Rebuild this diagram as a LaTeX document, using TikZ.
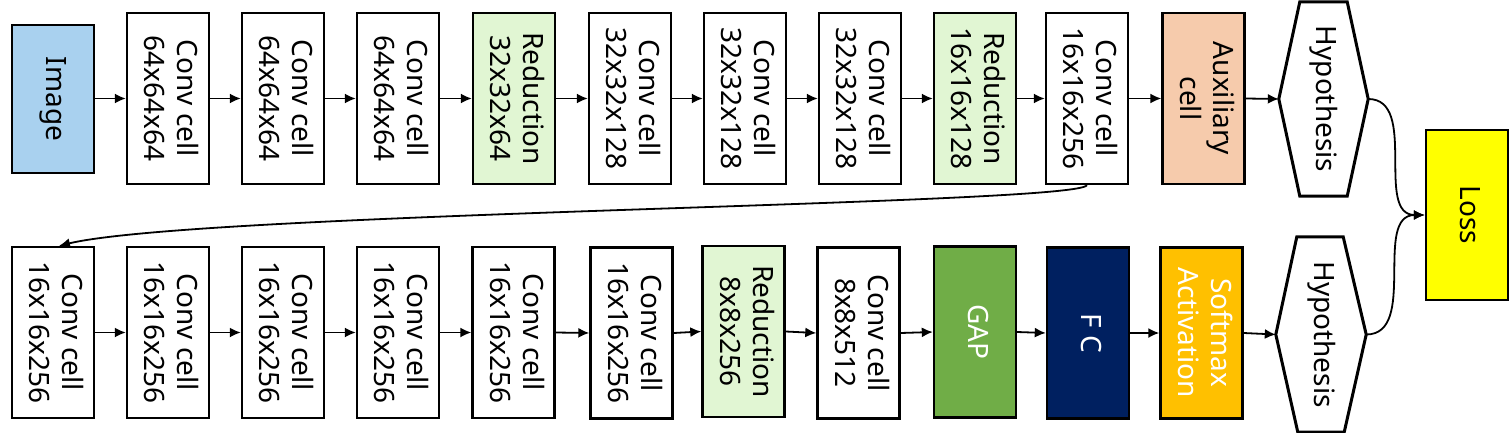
\documentclass[tikz,border=0pt]{standalone}
\usepackage{graphicx}
\usepackage{fontspec}
\setmainfont{Noto Sans}
\usetikzlibrary{arrows.meta}
\definecolor{imgblue}{HTML}{A9D1EF}
\definecolor{redgreen}{HTML}{E1F6D3}
\definecolor{auxpeach}{HTML}{F6CBAC}
\definecolor{gapgreen}{HTML}{70AD47}
\definecolor{fcblue}{HTML}{002060}
\definecolor{smaxorange}{HTML}{FFC000}
\definecolor{lossyellow}{HTML}{FFFF00}
\newcommand{\vtext}[1]{\rotatebox{-90}{\fontsize{28}{33}\selectfont\begin{tabular}{@{}c@{}}#1\end{tabular}}}
\tikzset{
  cellbox/.style={draw=black, line width=2.4pt, minimum width=82pt, minimum height=171pt, inner sep=0pt, anchor=center, fill=white},
  redbox/.style={cellbox, fill=redgreen},
  hexnode/.style={inner sep=0pt, anchor=center},
  hexline/.style={draw=black, line width=3pt, line join=miter, fill=white},
  flow/.style={line width=1.8pt, -{Latex[length=11pt,width=10pt]}},
}
\begin{document}
\begin{tikzpicture}[x=1pt,y=-1pt]
\useasboundingbox (0,0) rectangle (1509,433);
% top row
\node[cellbox, fill=imgblue, minimum height=148pt] (t1) at (53,99) {\vtext{Image}};
\node[cellbox] (t2) at (168,98.5) {\vtext{Conv cell\\64x64x64}};
\node[cellbox] (t3) at (283,98.5) {\vtext{Conv cell\\64x64x64}};
\node[cellbox] (t4) at (398,98.5) {\vtext{Conv cell\\64x64x64}};
\node[redbox] (t5) at (514,98.5) {\vtext{Reduction\\32x32x64}};
\node[cellbox] (t6) at (630,98.5) {\vtext{Conv cell\\32x32x128}};
\node[cellbox] (t7) at (745,98.5) {\vtext{Conv cell\\32x32x128}};
\node[cellbox] (t8) at (860,98.5) {\vtext{Conv cell\\32x32x128}};
\node[redbox] (t9) at (975,98.5) {\vtext{Reduction\\16x16x128}};
\node[cellbox] (t10) at (1087,98.5) {\vtext{Conv cell\\16x16x256}};
\node[cellbox, fill=auxpeach] (t11) at (1203.5,98.5) {\vtext{Auxiliary\\cell}};
\node[hexnode, minimum width=89pt, minimum height=194pt] (hyp1) at (1323.5,99) {};
\path[hexline] (hyp1.west) -- ([xshift=21pt]hyp1.north west) -- ([xshift=-21pt]hyp1.north east) -- (hyp1.east) -- ([xshift=-21pt]hyp1.south east) -- ([xshift=21pt]hyp1.south west) -- cycle;
\node at (hyp1) {\vtext{Hypothesis}};
\node[cellbox, fill=lossyellow, minimum height=170pt] (loss) at (1467,215) {\vtext{Loss}};
% bottom row
\node[cellbox] (b1) at (53,332.5) {\vtext{Conv cell\\16x16x256}};
\node[cellbox] (b2) at (168,332.5) {\vtext{Conv cell\\16x16x256}};
\node[cellbox] (b3) at (283,332.5) {\vtext{Conv cell\\16x16x256}};
\node[cellbox] (b4) at (398,332.5) {\vtext{Conv cell\\16x16x256}};
\node[cellbox] (b5) at (513.5,332.5) {\vtext{Conv cell\\16x16x256}};
\node[cellbox] (b6) at (631.5,333) {\vtext{Conv cell\\16x16x256}};
\node[redbox] (b7) at (743.5,331.5) {\vtext{Reduction\\8x8x256}};
\node[cellbox] (b8) at (858.5,333) {\vtext{Conv cell\\8x8x512}};
\node[cellbox, fill=gapgreen, text=white] (b9) at (975,332) {\vtext{GAP}};
\node[cellbox, fill=fcblue, text=white] (b10) at (1088,333) {\vtext{F C}};
\node[cellbox, fill=smaxorange, text=white] (b11) at (1201.5,333) {\vtext{Softmax\\Activation}};
\node[hexnode, minimum width=90pt, minimum height=195pt] (hyp2) at (1321,334.5) {};
\path[hexline] (hyp2.west) -- ([xshift=21pt]hyp2.north west) -- ([xshift=-23pt]hyp2.north east) -- (hyp2.east) -- ([xshift=-22pt]hyp2.south east) -- ([xshift=22pt]hyp2.south west) -- cycle;
\node at (hyp2) {\vtext{Hypothesis}};
% connectors top
\draw[flow] (t1.east |- t2.west) -- (t2.west);
\draw[flow] (t2) -- (t3);
\draw[flow] (t3) -- (t4);
\draw[flow] (t4) -- (t5);
\draw[flow] (t5) -- (t6);
\draw[flow] (t6) -- (t7);
\draw[flow] (t7) -- (t8);
\draw[flow] (t8) -- (t9);
\draw[flow] (t9) -- (t10);
\draw[flow] (t10) -- (t11);
\draw[flow] (t11.east) -- (hyp1.west);
% wrap
\draw[flow] (t10.south) .. controls (1075,205) and (200,212) .. ([xshift=6pt]b1.north);
% connectors bottom
\draw[flow] (b1) -- (b2);
\draw[flow] (b2) -- (b3);
\draw[flow] (b3) -- (b4);
\draw[flow] (b4) -- (b5);
\draw[flow] (b5.east) -- (b6.west);
\draw[flow] (b6.east) -- (b7.west);
\draw[flow] (b7.east) -- (b8.west);
\draw[flow] (b8.east) -- (b9.west);
\draw[flow] (b9.east) -- (b10.west);
\draw[flow] (b10) -- (b11);
\draw[flow] (b11.east) -- (hyp2.west);
% to loss
\draw[flow] (hyp1.east) to[out=0,in=180] (loss.west);
\draw[flow] (hyp2.east) to[out=0,in=180] (loss.west);
\end{tikzpicture}
\end{document}
